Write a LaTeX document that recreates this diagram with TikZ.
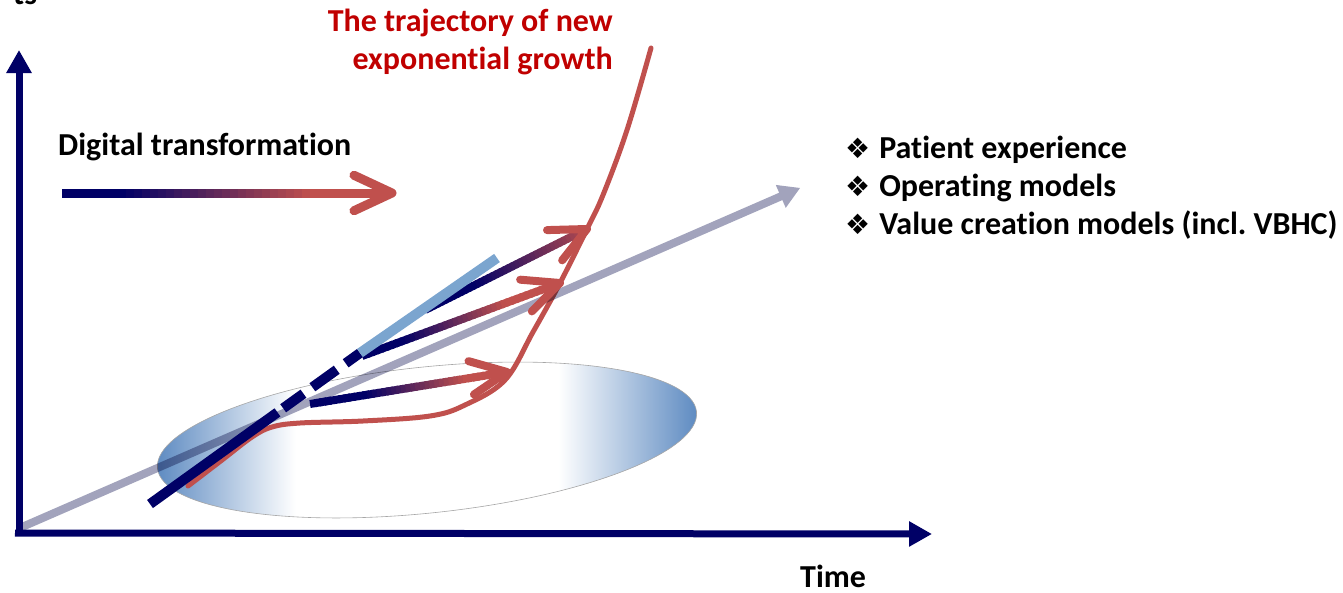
\documentclass[tikz,border=0pt]{standalone}
\usepackage{fontspec}
\setmainfont{Carlito}[Ligatures=NoCommon]
\newfontfamily\dejavu{DejaVu Sans}
\usetikzlibrary{arrows.meta,calc}
\frenchspacing
\definecolor{navy}{RGB}{0,0,102}
\definecolor{arrred}{RGB}{192,80,77}
\definecolor{titlered}{RGB}{192,0,0}
\definecolor{ellblue}{RGB}{90,136,192}
\definecolor{lightblue}{RGB}{123,165,207}
\definecolor{axgray}{RGB}{162,163,188}
\pgfdeclarehorizontalshading{ellshade}{100bp}{color(0bp)=(ellblue); color(25bp)=(ellblue); color(38bp)=(white); color(62bp)=(white); color(75bp)=(ellblue); color(100bp)=(ellblue)}
\newcommand\gradarrow[6]{%
  \foreach \i in {0,...,39}{%
    \pgfmathsetmacro\ta{\i/40*0.97}%
    \pgfmathsetmacro\tb{min(0.97,(\i+1.5)/40*0.97)}%
    \pgfmathtruncatemacro\mx{max(0,min(100,((\i+0.5)/40*0.97-#3)/(#4-#3)*100))}%
    \draw[line width=#5, draw=arrred!\mx!navy] ($(#1)!\ta!(#2)$) -- ($(#1)!\tb!(#2)$);
  }%
  \draw[line width=#5, arrred, line cap=round, line join=round] ($(#2)!#6!25:(#1)$) -- (#2) -- ($(#2)!#6!-25:(#1)$);
}
\tikzset{
  lbl/.style={font=\bfseries\fontsize{32}{38}\selectfont, inner sep=0pt},
  axis/.style={draw=navy, line width=7pt, -{Triangle[length=23pt,width=24pt]}},
}
\newcommand\bul{{\dejavu\fontsize{28}{30}\selectfont\char"2756}\hspace{9pt}}
\begin{document}
\begin{tikzpicture}[x=1pt,y=-1pt]
\useasboundingbox (0,0) rectangle (1343,592);
% ellipse
\shade[shading=ellshade, draw=gray!70, line width=0.6pt, rotate around={6:(427,440)}] (427,440) ellipse [x radius=271, y radius=73];
% red trajectory curve
\draw[arrred, line width=5pt, line cap=round] plot[smooth, tension=0.6] coordinates {(188,486) (222,460) (252,437) (272,427) (300,423) (363,421) (430,416) (465,405) (505,380) (533,332) (560,283) (587,229) (603,195) (627,130) (651,48)};
% gray diagonal arrow (one closed shape)
\coordinate (gS) at (22,527);
\coordinate (gE) at (800,188);
\coordinate (gB) at ($(gE)!21pt!(gS)$);
\fill[axgray, blend mode=multiply] ($(gS)!4pt!90:(gE)$) -- ($(gB)!4pt!-90:(gS)$) -- ($(gB)!12.5pt!-90:(gS)$) -- (gE) -- ($(gB)!12.5pt!90:(gS)$) -- ($(gB)!4pt!90:(gS)$) -- ($(gS)!4pt!-90:(gE)$) -- cycle;
% axes
\coordinate (O) at (19,536);
\coordinate (yE) at (19,50);
\coordinate (xS) at (15,533);
\coordinate (xE) at (932,534);
\draw[axis] (O) -- (yE);
\draw[axis] (xS) -- (xE);
% gradient arrows
\coordinate (a1S) at (425,310); \coordinate (a1E) at (587,229);
\coordinate (a2S) at (362,356); \coordinate (a2E) at (560,283);
\coordinate (a3S) at (310,404); \coordinate (a3E) at (507,372);
\gradarrow{a3S}{a3E}{0.28}{0.78}{8pt}{40pt}
\gradarrow{a2S}{a2E}{0.2}{0.72}{8pt}{40pt}
\gradarrow{a1S}{a1E}{0.3}{1.05}{8pt}{40pt}
% navy dashed line and light blue line
\coordinate (nS) at (150,504);
\coordinate (nE) at (360,353);
\coordinate (bE) at (497,258);
\draw[navy, line width=10pt, dash pattern={on 157pt off 7pt on 25pt off 11pt on 30pt off 11pt on 20pt}] (nS) -- (nE);
\draw[lightblue, line width=10pt] (nE) -- (bE);
% digital transformation arrow
\coordinate (dS) at (62,193); \coordinate (dE) at (392,193);
\gradarrow{dS}{dE}{0.18}{0.75}{9pt}{42pt}
% texts
\node[lbl, anchor=base west] (ts) at (13,4) {ts};
\node[lbl, anchor=base west] (dt) at (58,155) {Digital transformation};
\node[lbl, anchor=base east, text=titlered] (t1) at (613,31) {The trajectory of new};
\node[lbl, anchor=base east, text=titlered] (t2) at (613,69) {exponential growth};
\node[lbl, anchor=base west] (b1) at (845,158) {\bul Patient experience};
\node[lbl, anchor=base west] (b2) at (845,196) {\bul Operating models};
\node[lbl, anchor=base west] (b3) at (845,234) {\bul Value creation models (incl. VBHC)};
\node[lbl, anchor=base west] (time) at (800,587) {Time};
\end{tikzpicture}
\end{document}
